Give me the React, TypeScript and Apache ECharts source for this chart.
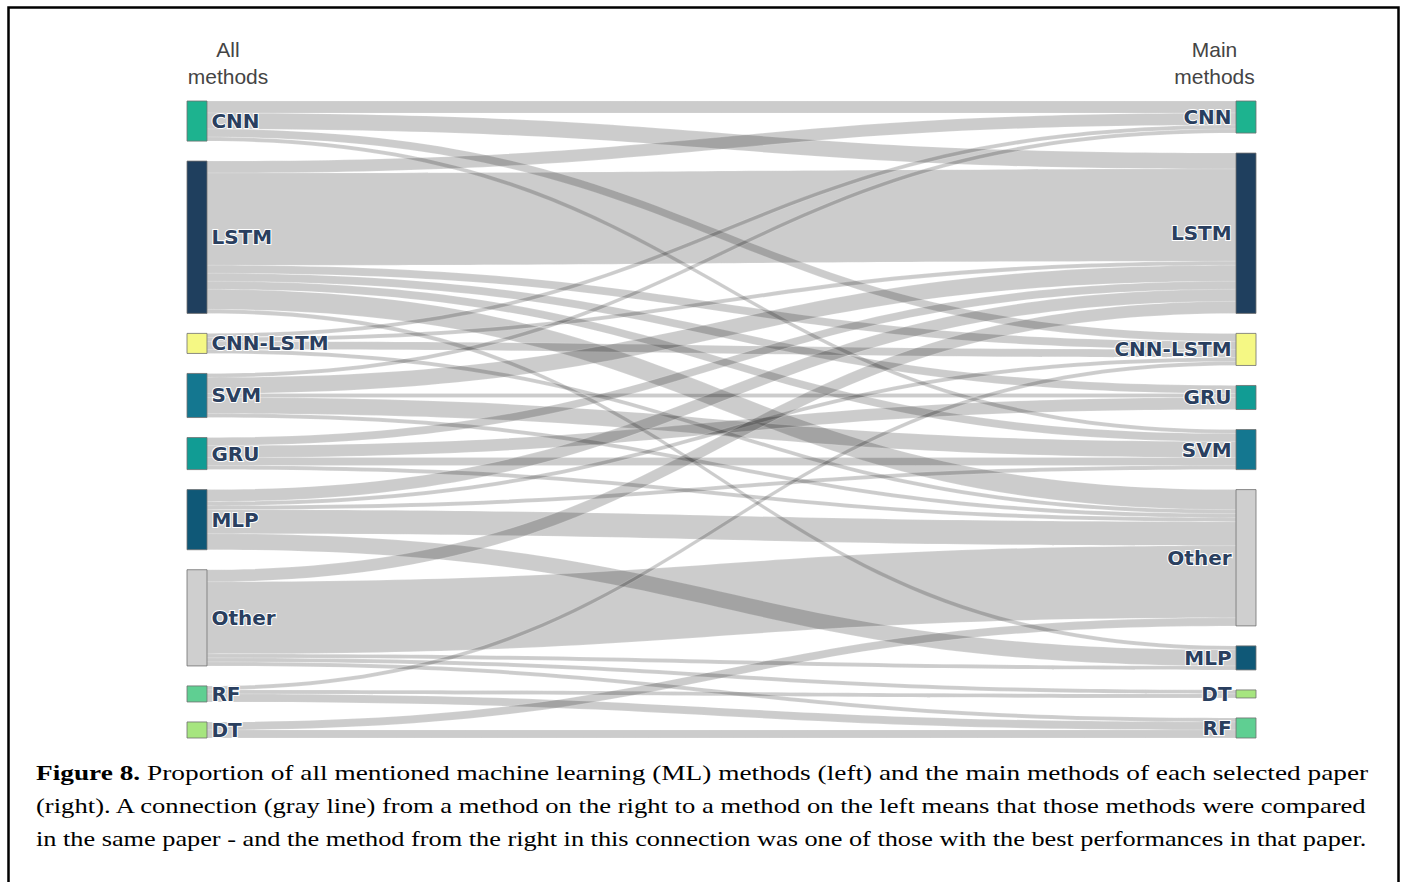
import React, { useEffect, useRef } from "react";
import * as echarts from "echarts";

// Left column ("All methods") and right column ("Main methods"), top to bottom
const allMethods = ["CNN", "LSTM", "CNN-LSTM", "SVM", "GRU", "MLP", "Other", "RF", "DT"];
const mainMethods = ["CNN", "LSTM", "CNN-LSTM", "GRU", "SVM", "Other", "MLP", "DT", "RF"];

const methodColors: Record<string, string> = {
  CNN: "#1db38f",
  LSTM: "#1f3f5e",
  "CNN-LSTM": "#f5f884",
  SVM: "#147790",
  GRU: "#119c94",
  MLP: "#0f5877",
  Other: "#cfcfcf",
  RF: "#5fcf92",
  DT: "#a6e57f",
};

// Connections: mentioned method (left) -> main method (right), number of papers
const linkSource = [
  "CNN", "CNN", "CNN", "CNN",
  "LSTM", "LSTM", "LSTM", "LSTM", "LSTM", "LSTM", "LSTM",
  "CNN-LSTM", "CNN-LSTM", "CNN-LSTM", "CNN-LSTM",
  "SVM", "SVM", "SVM", "SVM", "SVM",
  "GRU", "GRU", "GRU", "GRU",
  "MLP", "MLP", "MLP", "MLP", "MLP",
  "Other", "Other", "Other", "Other", "Other",
  "RF", "RF", "RF",
  "DT", "DT",
];
const linkTarget = [
  "CNN", "LSTM", "CNN-LSTM", "SVM",
  "CNN", "LSTM", "CNN-LSTM", "GRU", "SVM", "Other", "MLP",
  "CNN", "LSTM", "CNN-LSTM", "Other",
  "CNN", "LSTM", "GRU", "SVM", "Other",
  "LSTM", "GRU", "SVM", "Other",
  "LSTM", "CNN-LSTM", "SVM", "Other", "MLP",
  "LSTM", "Other", "MLP", "DT", "RF",
  "CNN-LSTM", "DT", "RF",
  "Other", "RF",
];
const linkValue = [
  3, 4, 2, 1,
  3, 23, 2, 2, 2, 5, 1,
  1, 1, 2, 1,
  1, 4, 1, 4, 1,
  2, 3, 2, 1,
  3, 1, 1, 6, 4,
  3, 18, 1, 1, 1,
  1, 1, 2,
  2, 2,
];

const headerLeft = "All\nmethods";
const headerRight = "Main\nmethods";

const captionBold = "Figure 8.";
const captionLines = [
  " Proportion of all mentioned machine learning (ML) methods (left) and the main methods of each selected paper",
  "(right). A connection (gray line) from a method on the right to a method on the left means that those methods were compared",
  "in the same paper - and the method from the right in this connection was one of those with the best performances in that paper.",
];

export default function App() {
  const ref = useRef<HTMLDivElement>(null);

  useEffect(() => {
    if (!ref.current) return;
    const chart = echarts.init(ref.current, undefined, { renderer: "svg" });

    const nodes = [
      ...allMethods.map((m) => ({
        name: "A:" + m,
        itemStyle: { color: methodColors[m] },
        label: { position: "right" },
      })),
      ...mainMethods.map((m) => ({
        name: "M:" + m,
        itemStyle: { color: methodColors[m] },
        label: { position: "left" },
      })),
    ];
    const links = linkSource.map((s, i) => ({
      source: "A:" + s,
      target: "M:" + linkTarget[i],
      value: linkValue[i],
    }));

    const serif = "'Liberation Serif', 'Times New Roman', serif";
    const captionY = [773, 806, 839];
    const captionScale = [1.301, 1.2676, 1.2523];

    const headerStyle = {
      fill: "#444",
      fontFamily: "'Liberation Sans', Arial, sans-serif",
      fontSize: 20,
      lineHeight: 27,
      align: "center",
      verticalAlign: "middle",
    };

    chart.setOption({
      animation: false,
      backgroundColor: "#ffffff",
      series: [
        {
          type: "sankey",
          left: 187,
          top: 101,
          width: 1069,
          height: 637,
          nodeWidth: 20,
          nodeGap: 20,
          layoutIterations: 0,
          draggable: false,
          data: nodes,
          links,
          itemStyle: { borderColor: "#707070", borderWidth: 0.8 },
          lineStyle: {
            color: "#000000",
            opacity: 0.2,
            curveness: 0.5,
            borderColor: "#ffffff",
            borderWidth: 0.8,
          },
          label: {
            show: true,
            color: "#2a3f5f",
            fontFamily: "'DejaVu Sans', Verdana, sans-serif",
            fontWeight: "bold",
            fontSize: 20,
            textBorderColor: "#ffffff",
            textBorderWidth: 2,
            distance: 4,
            formatter: (p: any) => String(p.name).slice(2),
          },
          emphasis: { disabled: true },
        },
      ],
      graphic: [
        {
          type: "polyline",
          silent: true,
          shape: { points: [[8.5, 890], [8.5, 7.5], [1398.5, 7.5], [1398.5, 890]] },
          style: { stroke: "#000", lineWidth: 2.5, fill: null },
        },
        {
          type: "text",
          x: 228,
          y: 63.5,
          scaleX: 1.05,
          style: { text: headerLeft, ...headerStyle },
        },
        {
          type: "text",
          x: 1214.5,
          y: 63.5,
          scaleX: 1.05,
          style: { text: headerRight, ...headerStyle },
        },
        ...captionLines.map((line, i) => ({
          type: "text",
          x: 36,
          y: captionY[i],
          scaleX: captionScale[i],
          style: {
            text: i === 0 ? "{b|" + captionBold + "}" + line : line,
            fill: "#000",
            fontFamily: serif,
            fontSize: 21,
            align: "left",
            verticalAlign: "middle",
            rich: {
              b: { fontWeight: "bold", fontFamily: serif, fontSize: 21, fill: "#000" },
            },
          },
        })),
      ],
    });

    return () => chart.dispose();
  }, []);

  return (
    <div
      ref={ref}
      style={{ position: "absolute", left: 0, top: 0, width: 1404, height: 882 }}
    />
  );
}
